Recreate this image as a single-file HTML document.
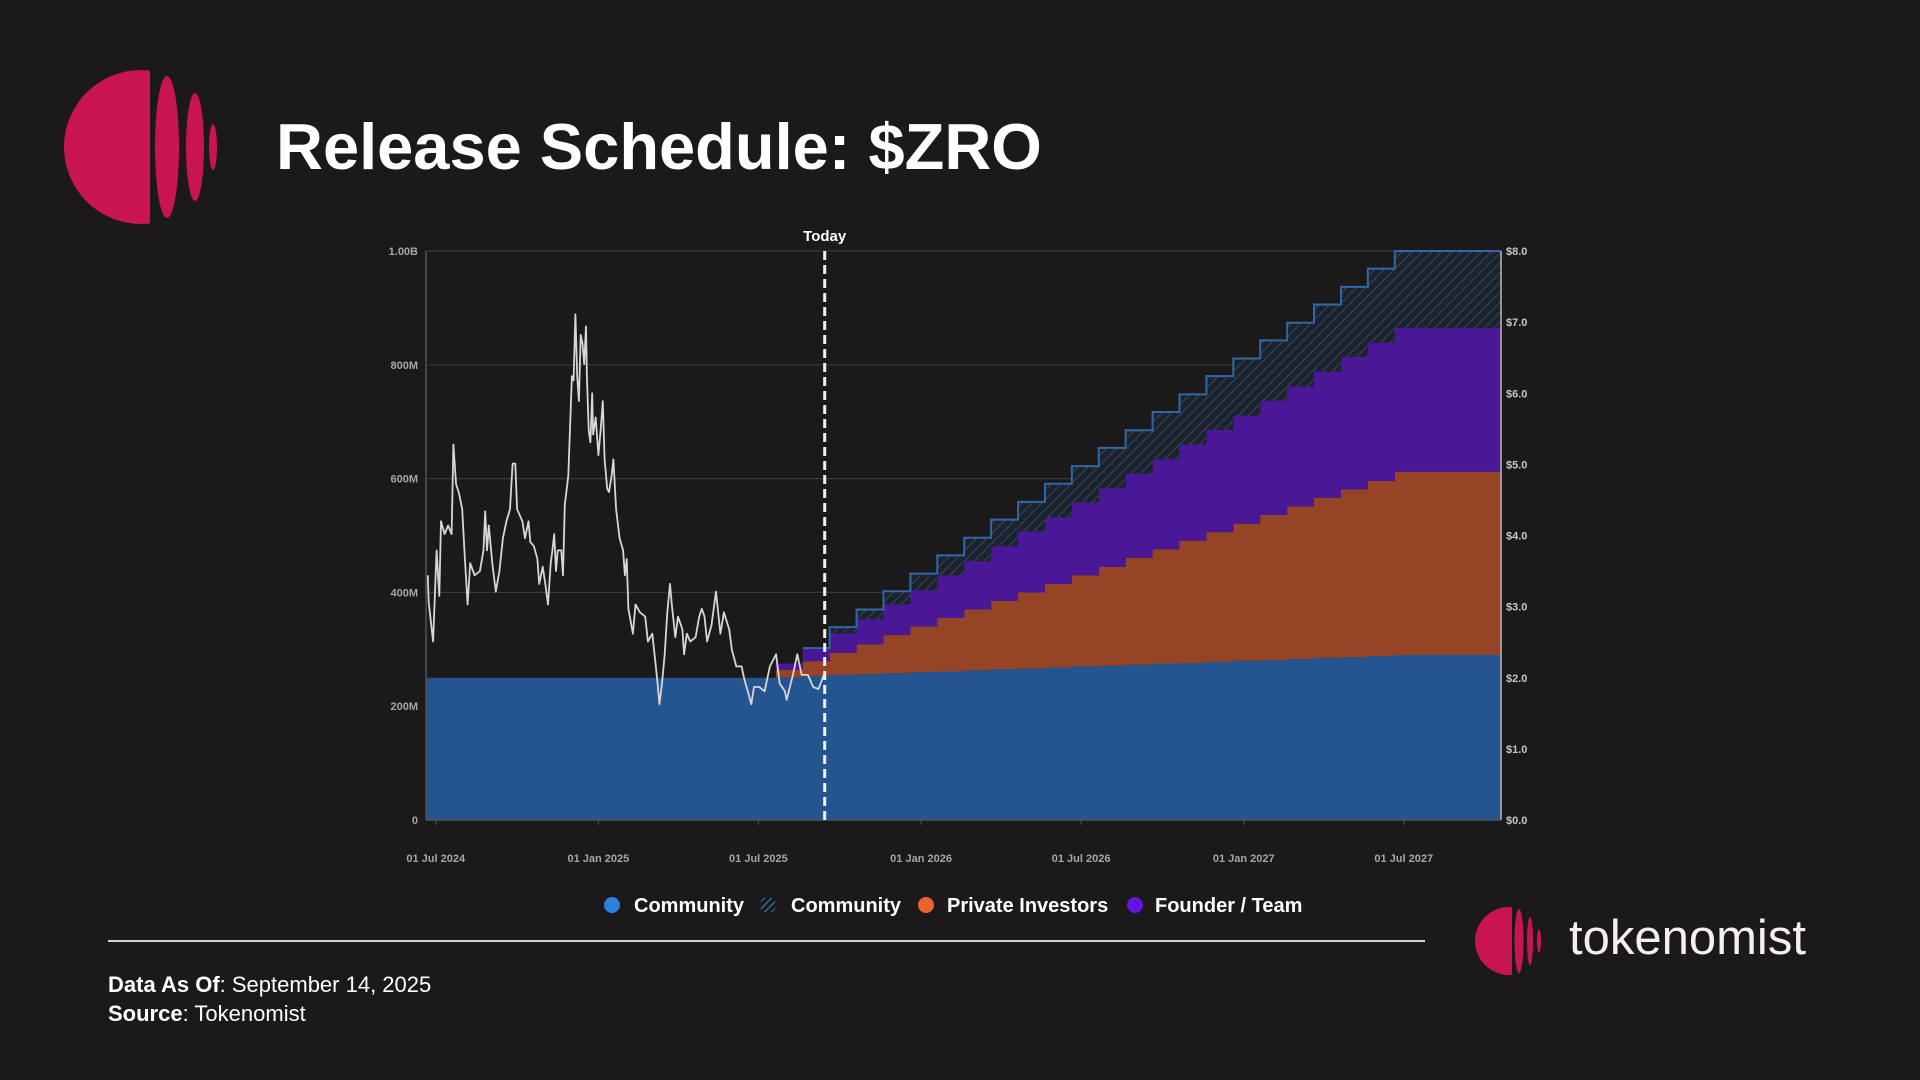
<!DOCTYPE html>
<html><head><meta charset="utf-8">
<style>
html,body{margin:0;padding:0;background:#1c191a;}
body{width:1920px;height:1080px;position:relative;overflow:hidden;font-family:"Liberation Sans",sans-serif;color:#fff;}
.abs{position:absolute;}
</style></head>
<body>
<svg class="abs" style="left:0;top:0" width="1920" height="1080">
  <defs>
    <clipPath id="discClip"><rect x="0" y="0" width="150" height="1080"/></clipPath>
    <clipPath id="discClip2"><rect x="0" y="0" width="1512" height="1080"/></clipPath>
    <pattern id="hatch" patternUnits="userSpaceOnUse" width="7" height="7" patternTransform="rotate(45)">
      <rect width="7" height="7" fill="#1e232b"/>
      <line x1="0" y1="0" x2="0" y2="7" stroke="#2d4a6c" stroke-width="2"/>
    </pattern>
    <pattern id="hatchIcon" patternUnits="userSpaceOnUse" width="5" height="5" patternTransform="rotate(45)">
      <line x1="0" y1="0" x2="0" y2="5" stroke="#3b7fd6" stroke-width="2.2"/>
    </pattern>
  </defs>
  <g>
    <circle cx="141" cy="147" r="77" fill="#c8144f" clip-path="url(#discClip)"/>
    <ellipse cx="167" cy="147" rx="12" ry="71" fill="#c8144f"/>
    <ellipse cx="195" cy="147" rx="9" ry="54" fill="#c8144f"/>
    <ellipse cx="213" cy="147" rx="4" ry="23" fill="#c8144f"/>
  </g>
  <text x="276" y="169" font-size="65" font-weight="bold" fill="#ffffff">Release Schedule: $ZRO</text>

  <g id="chart"></g>

  <line x1="108" y1="941" x2="1425" y2="941" stroke="#d8d4d4" stroke-width="2"/>
  <text x="108" y="992" font-size="22" fill="#fff"><tspan font-weight="bold">Data As Of</tspan>: September 14, 2025</text>
  <text x="108" y="1021" font-size="22" fill="#fff"><tspan font-weight="bold">Source</tspan>: Tokenomist</text>

  <g>
    <circle cx="1509" cy="941" r="34" fill="#c8144f" clip-path="url(#discClip2)"/>
    <ellipse cx="1519" cy="941" rx="4.5" ry="32" fill="#c8144f"/>
    <ellipse cx="1530" cy="941" rx="3" ry="24" fill="#c8144f"/>
    <ellipse cx="1539" cy="941" rx="2" ry="12" fill="#c8144f"/>
    <text x="1569" y="954" font-size="49" fill="#f6eff1">tokenomist</text>
  </g>
</svg>

<script>
// ---- data ----
const stepMonths = [0,13,14,15,16,17,18,19,20,21,22,23,24,25,26,27,28,29,30,31,32,33,34,35,36];
const communityM = [250,251,253,255,256,258,260,261,263,265,266,268,270,271,273,275,276,278,280,281,283,285,286,288,290];
const privateM   = [0,13,26,39,53,67,80,94,107,120,134,147,160,174,188,201,215,228,241,255,268,281,295,308,322];
const founderM   = [0,11,23,34,44,54,64,75,85,96,107,117,128,138,148,158,169,180,190,201,211,222,233,243,253];
const tbdM       = [0,0,0,11,17,23,29,35,41,47,52,59,64,71,76,83,88,94,100,106,112,118,123,130,135];
const priceDays = [2,3,8,12,15,17,21,25,29,31,34,37,41,44,47,50,55,61,65,67,69,71,75,79,83,87,91,95,98,101,103,109,112,116,118,122,126,128,132,135,138,141,143,145,147,149,153,155,157,161,165,167,169,171,173,175,177,179,181,182,184,186,188,189,192,195,198,200,202,205,207,210,212,215,219,223,225,227,229,234,237,242,248,251,256,259,262,264,267,270,273,276,278,282,285,290,292,295,299,305,309,312,315,318,323,328,333,337,343,346,351,357,360,364,368,371,377,383,389,396,400,406,408,415,420,425,432,438,444,450];
const priceUSD = [3.44,3.06,2.51,3.79,3.15,4.20,4.02,4.14,4.02,5.28,4.72,4.61,4.37,3.67,3.03,3.61,3.44,3.50,3.79,4.34,3.79,4.14,3.61,3.21,3.50,3.96,4.20,4.37,5.01,5.01,4.37,4.20,3.96,4.20,3.91,3.85,3.67,3.32,3.56,3.32,3.03,3.61,3.79,4.02,3.50,3.79,3.79,3.44,4.43,4.84,6.24,6.18,7.11,6.24,5.89,6.82,6.70,6.41,6.94,6.24,5.48,5.31,6.00,5.42,5.66,5.13,5.54,5.89,5.07,4.66,4.61,4.84,5.07,4.37,3.96,3.79,3.44,3.67,2.97,2.62,3.03,2.92,2.86,2.51,2.62,2.27,1.92,1.63,1.92,2.33,2.92,3.32,3.03,2.57,2.86,2.68,2.33,2.62,2.51,2.57,2.86,2.97,2.86,2.51,2.74,3.21,2.62,2.92,2.68,2.39,2.16,2.16,1.98,1.81,1.63,1.87,1.87,1.81,2.16,2.33,1.92,1.81,1.69,2.04,2.33,2.04,2.04,1.87,1.84,2.04];
const leftTicks = [0,200,400,600,800,1000];
const leftTickLabels = ["0","200M","400M","600M","800M","1.00B"];
const rightTicks = [0,1,2,3,4,5,6,7,8];
const rightTickLabels = ["$0.0","$1.0","$2.0","$3.0","$4.0","$5.0","$6.0","$7.0","$8.0"];
const xTickDays = [11,195,376,560,741,925,1106];
const xTickLabels = ["01 Jul 2024","01 Jan 2025","01 Jul 2025","01 Jan 2026","01 Jul 2026","01 Jan 2027","01 Jul 2027"];
const todayDay = 451;
const endDay = 1216;

// ---- scales ----
const PL=426, PR=1501, PT=251, PB=820;
const xS = d => PL + d*(PR-PL)/endDay;
const yL = m => PB - m*(PB-PT)/1000;
const yR = p => PB - p*(PB-PT)/8;
const monthDay = m => m*30.44;

const NS="http://www.w3.org/2000/svg";
const chart=document.getElementById('chart');
function mk(tag, attrs, parent){const e=document.createElementNS(NS,tag);for(const k in attrs)e.setAttribute(k,attrs[k]);(parent||chart).appendChild(e);return e;}

// grid
leftTicks.forEach((v,i)=>{
  const g=mk('line',{x1:PL,x2:PR,y1:yL(v),y2:yL(v),stroke:'#3b3637','stroke-width':1.2});
  
  
  const t=mk('text',{x:PL-8,y:yL(v)+4,'text-anchor':'end','font-size':11,'font-weight':'bold',fill:'#a9a4a5'});
  t.textContent=leftTickLabels[i];
  
  
});
rightTicks.forEach((v,i)=>{
  const t=mk('text',{x:PR+5,y:yR(v)+4,'font-size':11,'font-weight':'bold',fill:'#c9c4c5'});
  t.textContent=rightTickLabels[i];
  
  
});

// stacked step areas
const series=[communityM,privateM,founderM,tbdM];
const fills=['#245591','#954525','#4a1896','url(#hatch)'];
const names=['community-area','private-investors-area','founder-team-area','community-tbd-area'];
const cum=[];
let base=stepMonths.map(()=>0);
series.forEach((s,k)=>{
  const top=s.map((v,i)=>base[i]+v);
  cum.push({lo:base.slice(),hi:top});
  base=top;
});
function stepPts(vals){
  const pts=[];
  for(let i=0;i<stepMonths.length;i++){
    const d0=monthDay(stepMonths[i]);
    const d1=i+1<stepMonths.length?monthDay(stepMonths[i+1]):endDay;
    pts.push([xS(d0),yL(vals[i])],[xS(d1),yL(vals[i])]);
  }
  return pts;
}
cum.forEach((c,k)=>{
  const tp=stepPts(c.hi), bp=stepPts(c.lo).reverse();
  const d='M'+tp.concat(bp).map(p=>p[0].toFixed(1)+','+p[1].toFixed(1)).join('L')+'Z';
  const p=mk('path',{d:d,fill:fills[k]});
  
  
});
// tbd outline
{
  const start=stepMonths.findIndex((m,i)=>tbdM[i]>0)-1;
  const pts=stepPts(cum[3].hi).slice(start*2);
  const l=mk('polyline',{points:pts.map(p=>p.join(',')).join(' '),fill:'none',stroke:'#2f68a8','stroke-width':2});
  
  
}

// axes
{
  const a=mk('line',{x1:PL,x2:PL,y1:PT,y2:PB,stroke:'#55505a','stroke-width':1.5});
  
  
  const b=mk('line',{x1:PR,x2:PR,y1:PT,y2:PB,stroke:'#bdb8b9','stroke-width':1.5});
  
  
  const c=mk('line',{x1:PL,x2:PR,y1:PB,y2:PB,stroke:'#55505a','stroke-width':1.5});
  
  
}
xTickDays.forEach((d,i)=>{
  const tk=mk('line',{x1:xS(d),x2:xS(d),y1:PB,y2:PB+5,stroke:'#55505a','stroke-width':1});
  
  
  const t=mk('text',{x:xS(d),y:862,'text-anchor':'middle','font-size':11,'font-weight':'bold',fill:'#a9a4a5'});
  t.textContent=xTickLabels[i];
  
  
});

// price line
{
  const pts=priceDays.map((d,i)=>xS(d).toFixed(1)+','+yR(priceUSD[i]).toFixed(1)).join(' ');
  const l=mk('polyline',{points:pts,fill:'none',stroke:'#d9d5d5','stroke-width':1.8,'stroke-linejoin':'round'});
  
  
}

// today
{
  const l=mk('line',{x1:xS(todayDay),x2:xS(todayDay),y1:PT,y2:PB,stroke:'#f2f0f0','stroke-width':3,'stroke-dasharray':'9,5'});
  
  
  const t=mk('text',{x:xS(todayDay),y:241,'text-anchor':'middle','font-size':15,'font-weight':'bold',fill:'#fff'});
  t.textContent='Today';
  
  
}

// legend
const legendItems=[
  {x:612,fill:'#2f7fe0',label:'Community',tx:634,name:'legend-community'},
  {x:768,fill:'url(#hatchIcon)',label:'Community',tx:791,name:'legend-community-tbd'},
  {x:926,fill:'#eb6430',label:'Private Investors',tx:947,name:'legend-private-investors'},
  {x:1135,fill:'#6414e0',label:'Founder / Team',tx:1155,name:'legend-founder-team'}
];
legendItems.forEach(it=>{
  const g=mk('g',{});
  
  
  mk('circle',{cx:it.x,cy:905,r:8,fill:it.fill},g);
  const t=mk('text',{x:it.tx,y:912,'font-size':20,'font-weight':'bold',fill:'#fff'},g);
  t.textContent=it.label;
});
</script>
</body></html>
